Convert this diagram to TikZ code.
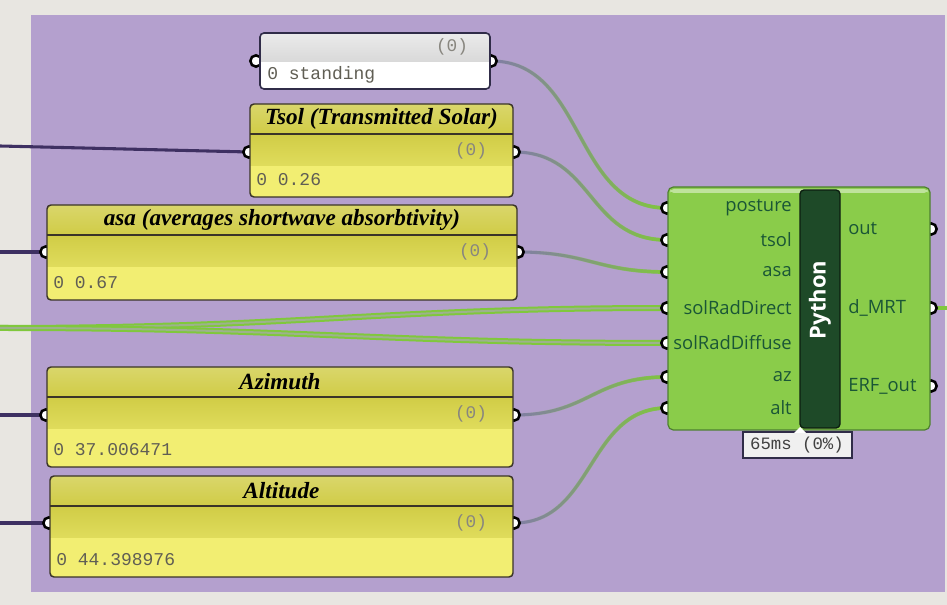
\documentclass[tikz,border=0pt]{standalone}
\usepackage{fontspec}
\setmainfont{Liberation Serif}
\setmonofont{Liberation Mono}
\newfontfamily\compfont{Open Sans}
\usetikzlibrary{fadings}
\definecolor{canvasgray}{RGB}{232,230,225}
\definecolor{grouppurple}{RGB}{180,160,206}
\definecolor{paneltitle}{RGB}{208,204,70}
\definecolor{panelmid}{RGB}{224,220,92}
\definecolor{panelvalue}{RGB}{242,238,114}
\definecolor{paneledge}{RGB}{58,52,40}
\definecolor{panelnavy}{RGB}{48,44,72}
\definecolor{pygreen}{RGB}{138,204,74}
\definecolor{pyedge}{RGB}{78,128,48}
\definecolor{pydark}{RGB}{30,74,40}
\definecolor{pylabel}{RGB}{26,86,54}
\definecolor{wiregreen}{RGB}{128,200,60}
\definecolor{wiregray}{RGB}{130,124,168}
\definecolor{wiredark}{RGB}{62,48,98}
\definecolor{valuegray}{RGB}{96,94,84}

\tikzfading[name=wirefade, left color=transparent!100, right color=transparent!0]

\tikzset{
  grip/.style={circle,draw=black,fill=white,line width=1.9pt,inner sep=0pt,minimum size=8.5pt},
  wire/.style={draw=wiregray,line width=2.3pt,postaction={draw=wiregreen,line width=2.8pt,path fading=wirefade}},
  listwire/.style={draw=wiregreen,line width=1.5pt,double=wiregreen!45!grouppurple,double distance=1.5pt},
  inwire/.style={draw=wiredark,line width=2.3pt},
  titletext/.style={font=\fontsize{17.4}{20}\selectfont\bfseries\itshape,inner sep=0pt},
  counttext/.style={font=\fontsize{13.3}{15}\ttfamily,text=valuegray!75,inner sep=0pt},
  valuetext/.style={font=\fontsize{13.5}{15}\ttfamily,text=valuegray,anchor=west,inner sep=0pt},
  inlabel/.style={font=\fontsize{13.8}{15}\compfont,text=pylabel,anchor=east,inner sep=0pt},
  outlabel/.style={font=\fontsize{13.8}{15}\compfont,text=pylabel,anchor=west,inner sep=0pt},
}

\begin{document}
\begin{tikzpicture}[x=0.75pt,y=-0.75pt]
  \useasboundingbox (0,0) rectangle (947,605);
  \fill[canvasgray] (0,0) rectangle (947,605);
  \fill[grouppurple] (31,15) rectangle (945,592);

  % grips of the panels
  \coordinate (standIn) at (256,61);
  \coordinate (standOut) at (491,61);
  \coordinate (tsolIn) at (249,152);
  \coordinate (tsolOut) at (514,152);
  \coordinate (asaIn) at (46,252);
  \coordinate (asaOut) at (518,252);
  \coordinate (azIn) at (46,415);
  \coordinate (azOut) at (514,415);
  \coordinate (altIn) at (49,523);
  \coordinate (altOut) at (514,523);
  % grips of the python component
  \coordinate (pyPosture) at (667,208);
  \coordinate (pyTsol) at (667,240);
  \coordinate (pyAsa) at (667,272);
  \coordinate (pySolDir) at (667,308);
  \coordinate (pySolDif) at (667,343);
  \coordinate (pyAz) at (667,377);
  \coordinate (pyAlt) at (667,408);
  \coordinate (pyOut) at (931,229);
  \coordinate (pyMRT) at (931,308);
  \coordinate (pyERF) at (931,386);
  % loose ends at the border
  \coordinate (leftTsol) at (0,146);
  \coordinate (leftAsa) at (0,252);
  \coordinate (leftAz) at (0,415);
  \coordinate (leftAlt) at (0,523);
  \coordinate (leftSol) at (0,328);
  \coordinate (rightMRT) at (947,308);

  % wires
  \draw[inwire] (leftTsol) -- (tsolIn);
  \draw[inwire] (leftAsa) -- (asaIn);
  \draw[inwire] (leftAz) -- (azIn);
  \draw[inwire] (leftAlt) -- (altIn);
  \draw[listwire] (leftSol) .. controls (300,328) and (380,308) .. (pySolDir);
  \draw[listwire] (leftSol) .. controls (300,328) and (380,343) .. (pySolDif);
  \draw[wire] (standOut) .. controls +(95,0) and +(-95,0) .. (pyPosture);
  \draw[wire] (tsolOut) .. controls +(80,0) and +(-80,0) .. (pyTsol);
  \draw[wire] (asaOut) .. controls +(70,0) and +(-70,0) .. (pyAsa);
  \draw[wire] (azOut) .. controls +(75,0) and +(-75,0) .. (pyAz);
  \draw[wire] (altOut) .. controls +(80,0) and +(-80,0) .. (pyAlt);
  \draw[draw=wiregreen,line width=2.6pt] (pyMRT) -- (rightMRT);

  \foreach \g in {standIn,standOut,tsolIn,tsolOut,asaIn,asaOut,azIn,azOut,altIn,altOut,
                  pyPosture,pyTsol,pyAsa,pySolDir,pySolDif,pyAz,pyAlt,pyOut,pyMRT,pyERF}
    \node[grip] (\g-grip) at (\g) {};

  % text panel
  \fill[white,rounded corners=3] (260,33) rectangle (490,89);
  \begin{scope}
    \clip[rounded corners=3] (260,33) rectangle (490,89);
    \fill[top color=black!8,bottom color=black!15] (260,33) rectangle (490,62);
  \end{scope}
  \draw[panelnavy,line width=1.2pt,rounded corners=3] (260,33) rectangle (490,89);
  \node[counttext] (stand-count) at (452,47) {(0)};
  \node[valuetext] (stand-value) at (267,75) {0 standing};

  % number panels
  \foreach \nm/\xa/\ya/\xb/\yb/\ttl/\val in {
      tsol/250/104/513/197/{Tsol (Transmitted Solar)}/0.26,
      asa/47/205/517/300/{asa (averages shortwave absorbtivity)}/0.67,
      az/47/367/513/467/{Azimuth}/37.006471,
      alt/50/476/513/577/{Altitude}/44.398976}{
    \begin{scope}
      \clip[rounded corners=3] (\xa,\ya) rectangle (\xb,\yb);
      \fill[panelvalue] (\xa,\ya) rectangle (\xb,\yb);
      \fill[top color=paneltitle!80!white,bottom color=paneltitle] (\xa,\ya) rectangle (\xb,\ya+30);
      \fill[top color=paneltitle,bottom color=panelmid] (\xa,\ya+30) rectangle (\xb,\ya+62);
    \end{scope}
    \draw[paneledge,line width=1.3pt] (\xa,\ya+30) -- (\xb,\ya+30);
    \draw[paneledge,line width=1.1pt,rounded corners=3] (\xa,\ya) rectangle (\xb,\yb);
    \node[titletext] (\nm-title) at ({(\xa+\xb)/2},\ya+15) {\ttl};
    \node[counttext] (\nm-count) at (\xb-42,\ya+47) {(0)};
    \node[valuetext] (\nm-value) at (\xa+6,\yb-17) {0 \val};
  }

  % python component
  \fill[pygreen,rounded corners=4] (668,187) rectangle (930,430);
  \fill[pygreen!55!white,rounded corners=3] (670,189) rectangle (928,193);
  \draw[pyedge,line width=0.9pt,rounded corners=4] (668,187) rectangle (930,430);
  \draw[fill=pydark,draw=black!60!pydark,line width=1pt,rounded corners=3] (800,190) rectangle (840,428);
  \node[font=\fontsize{16.5}{18}\compfont\bfseries,text=white,rotate=90] (py-name) at (820,300) {Python};
  \foreach \lab/\yy in {posture/208,tsol/240,asa/272,solRadDirect/308,solRadDiffuse/343,az/377,alt/408}
    \node[inlabel] (in-\lab) at (792,\yy) {\lab};
  \foreach \nm/\lab/\yy in {out/out/229,mrt/d\_MRT/308,erf/ERF\_out/386}
    \node[outlabel] (out-\nm) at (848,\yy) {\lab};

  % timing label
  \draw[fill=white!94!black,draw=panelnavy,line width=1pt] (743,432) rectangle (852,458);
  \fill[white] (794,433) -- (800,427) -- (806,433) -- cycle;
  \node[font=\fontsize{13}{15}\ttfamily,text=black!75,inner sep=0pt] (py-time) at (797,445) {65ms (0\%)};
\end{tikzpicture}
\end{document}
